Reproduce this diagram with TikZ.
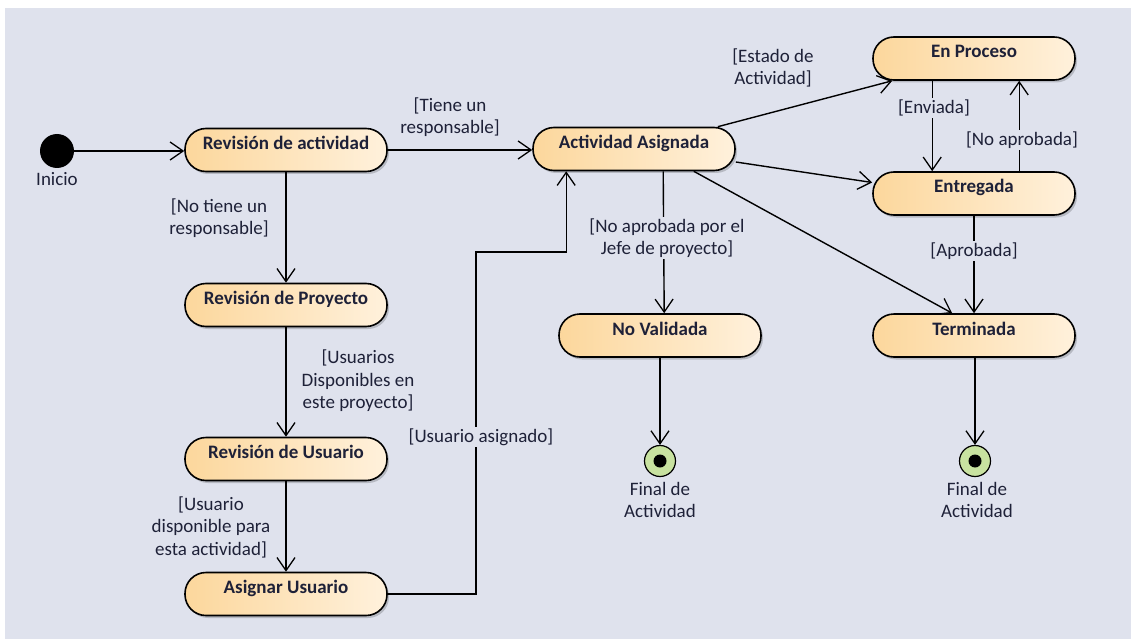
\documentclass[tikz,border=0pt]{standalone}
\usepackage{fontspec}
\setmainfont{Carlito}
\usetikzlibrary{arrows.meta,shadows,calc}

\definecolor{canvas}{HTML}{DFE2ED}
\definecolor{stateL}{HTML}{FCD79C}
\definecolor{stateR}{HTML}{FFF1DC}
\definecolor{finalfill}{HTML}{C8E2A0}
\definecolor{ink}{HTML}{1E2138}

\tikzset{
  statebox/.style={
    draw=black, line width=1.6pt, rounded corners=21pt,
    left color=stateL, right color=stateR,
    minimum width=202pt, inner xsep=0pt, inner ysep=0pt,
    text height=21pt, text depth=22pt,
    font=\fontsize{19}{22}\selectfont\bfseries, text=ink,
    drop shadow={shadow xshift=2pt, shadow yshift=-2.5pt, fill=black, opacity=0.18}
  },
  startdot/.style={circle, fill=black, minimum size=34pt, inner sep=0pt},
  enddot/.style={circle, draw=black, line width=1.2pt, fill=finalfill,
    minimum size=31pt, inner sep=0pt,
    path picture={\fill[black] (path picture bounding box.center) circle (6.5pt);}},
  guard/.style={font=\fontsize{19}{22.5}\selectfont, text=ink, align=center,
    inner sep=1.5pt},
  gapguard/.style={guard, fill=canvas},
  flow/.style={line width=1.4pt, draw=black,
    -{Straight Barb[length=13pt,width=18pt,line width=1.3pt]}},
  plain/.style={line width=1.4pt, draw=black}
}

\begin{document}
\begin{tikzpicture}[x=1pt,y=-1pt]
  % page and canvas
  \useasboundingbox (0,0) rectangle (1131,639);
  \fill[white] (0,0) rectangle (1131,639);
  \fill[canvas] (5,8) rectangle (1131,639);

  % states
  \node[startdot] (ini) at (57,151) {};
  \node[guard] (iniLbl) at (57,179) {Inicio};

  \node[statebox] (revAct)  at (286,150)   {Revisión de actividad};
  \node[statebox] (revProy) at (286,305)   {Revisión de Proyecto};
  \node[statebox] (revUsr)  at (286,459)   {Revisión de Usuario};
  \node[statebox] (asig)    at (286,594)   {Asignar Usuario};
  \node[statebox] (actAsig) at (634,149)   {Actividad Asignada};
  \node[statebox] (enProc)  at (974,58.5)  {En Proceso};
  \node[statebox] (entr)    at (974,193.5) {Entregada};
  \node[statebox] (term)    at (974,335.5) {Terminada};
  \node[statebox] (noVal)   at (660,335.5) {No Validada};

  \node[enddot] (fin1) at (660,461) {};
  \node[enddot] (fin2) at (975,461) {};

  % transitions
  \draw[flow] (ini) -- (revAct.west |- ini);
  \draw[flow] (revAct.east) -- (actAsig.west |- revAct.east);
  \draw[flow] (revAct) -- (revProy);
  \draw[flow] (revProy) -- (revUsr);
  \draw[flow] (revUsr) -- (asig);
  \coordinate (turn) at (476,252);
  \draw[flow] (asig.east) -| (turn) -| ([xshift=34pt]actAsig.south west);
  \draw[flow] ([xshift=-18pt]actAsig.north east) -- ([xshift=20pt]enProc.south west);
  \draw[flow] ([yshift=-13pt]actAsig.east) -- ([yshift=11pt]entr.west);
  \draw[flow] ([xshift=-42pt]actAsig.south east) -- ([xshift=80pt]term.north west);
  \draw[flow] ([xshift=131pt]actAsig.south west) -- ([xshift=106pt]noVal.north west);
  \draw[flow] ([xshift=60pt]enProc.south west) -- ([xshift=60pt]entr.north west);
  \draw[flow] ([xshift=147pt]entr.north west) -- ([xshift=147pt]enProc.south west);
  \draw[flow] (entr) -- (term);
  \draw[flow] (noVal) -- (fin1);
  \draw[flow] (term.south -| fin2) -- (fin2);

  % guards
  \node[guard] (gTiene) at (450,117) {[Tiene un\\responsable]};
  \node[guard] (gNoTiene) at (219,218) {[No tiene un\\responsable]};
  \node[guard] (gDisp) at (358,381) {[Usuarios\\Disponibles en\\este proyecto]};
  \node[guard] (gActiv) at (211,527) {[Usuario\\disponible para\\esta actividad]};
  \node[gapguard] (gAsig) at (481,437) {[Usuario asignado]};
  \node[gapguard] (gJefe) at (667,238) {[No aprobada por el\\Jefe de proyecto]};
  \node[guard] (gEstado) at (773,68) {[Estado de\\Actividad]};
  \node[gapguard] (gEnv) at (934,108) {[Enviada]};
  \node[gapguard] (gNoAp) at (1022,140) {[No aprobada]};
  \node[gapguard] (gAp) at (974,251) {[Aprobada]};

  \node[guard] (fin1Lbl) at (660,500) {Final de\\Actividad};
  \node[guard] (fin2Lbl) at (977,500) {Final de\\Actividad};
\end{tikzpicture}
\end{document}
